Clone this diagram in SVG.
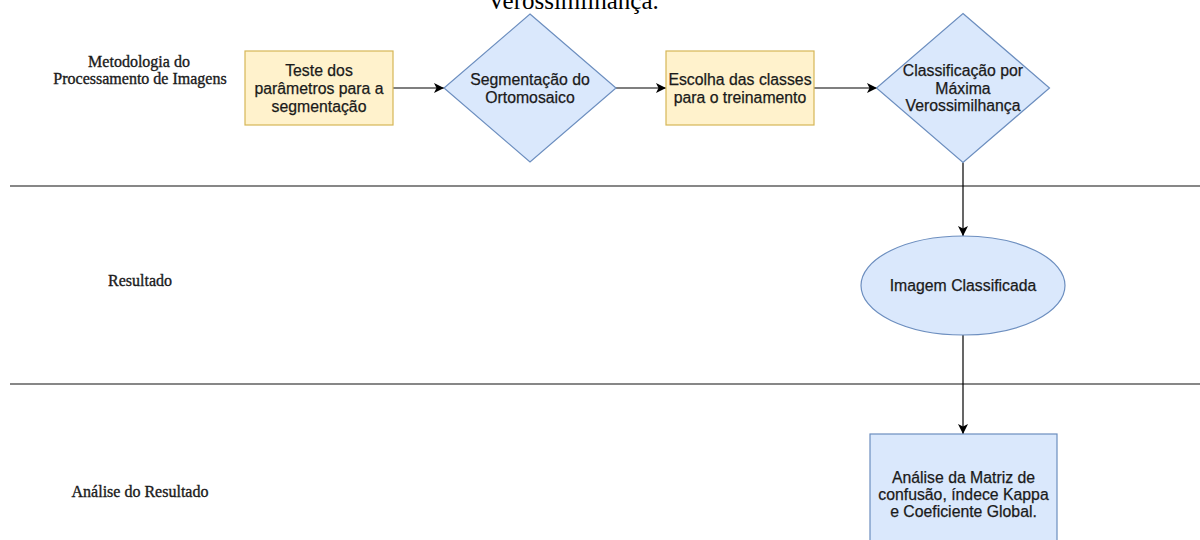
<svg xmlns="http://www.w3.org/2000/svg" width="1200" height="540" viewBox="0 0 1200 540">
<defs>
<style>
.yel{fill:#fff2cc;stroke:#d6b656;stroke-width:1.2}
.blu{fill:#dae8fc;stroke:#6c8ebf;stroke-width:1.2}
.nt{font-family:"Liberation Sans",Arial,sans-serif;font-size:15.8px;fill:#1a1a1a;stroke:#1a1a1a;stroke-width:0.25;text-anchor:middle}
.lt{font-family:"Liberation Serif","Times New Roman",serif;font-size:16px;fill:#1a1a1a;stroke:#1a1a1a;stroke-width:0.35;text-anchor:middle}
.lane{stroke:#5f5f5f;stroke-width:1.3;fill:none}
.con{stroke:#000;stroke-width:1.2;fill:none}
</style>
<marker id="arr" viewBox="0 0 10 10" refX="10" refY="5" markerWidth="10" markerHeight="10" markerUnits="userSpaceOnUse" orient="auto">
<path d="M0,0 L10,5 L0,10 L2.5,5 Z" fill="#000"/>
</marker>
</defs>
<rect width="1200" height="540" fill="#fff"/>
<text x="573" y="9" font-family="Liberation Serif,'Times New Roman',serif" font-size="25" fill="#000" text-anchor="middle">Verossimilhança.</text>
<g id="lanes">
<line class="lane" x1="10" y1="186" x2="1200" y2="186"/>
<line class="lane" x1="10" y1="384" x2="1200" y2="384"/>
</g>
<g id="lane-labels">
<text class="lt" x="139" y="66.5">Metodologia do</text>
<text class="lt" x="140" y="83.5">Processamento de Imagens</text>
<text class="lt" x="140" y="285.5">Resultado</text>
<text class="lt" x="140" y="497">Análise do Resultado</text>
</g>
<g id="connectors">
<line class="con" x1="393" y1="88" x2="444" y2="88" marker-end="url(#arr)"/>
<line class="con" x1="616" y1="88" x2="666" y2="88" marker-end="url(#arr)"/>
<line class="con" x1="814" y1="88" x2="877" y2="88" marker-end="url(#arr)"/>
<line class="con" x1="963" y1="162.5" x2="963" y2="236" marker-end="url(#arr)"/>
<line class="con" x1="963" y1="335" x2="963" y2="434" marker-end="url(#arr)"/>
</g>
<g id="n1">
<rect class="yel" x="245" y="51" width="148" height="74"/>
<text class="nt" x="319" y="76">Teste dos</text>
<text class="nt" x="319" y="94">parâmetros para a</text>
<text class="nt" x="319" y="112">segmentação</text>
</g>
<g id="n2">
<polygon class="blu" points="530,14 616,88 530,162 444,88"/>
<text class="nt" x="530" y="85">Segmentação do</text>
<text class="nt" x="530" y="103">Ortomosaico</text>
</g>
<g id="n3">
<rect class="yel" x="666" y="51" width="148" height="74"/>
<text class="nt" x="740" y="85">Escolha das classes</text>
<text class="nt" x="740" y="103">para o treinamento</text>
</g>
<g id="n4">
<polygon class="blu" points="963,13.5 1049.5,88 963,162.5 876.5,88"/>
<text class="nt" x="963" y="76">Classificação por</text>
<text class="nt" x="963" y="93.5">Máxima</text>
<text class="nt" x="963" y="111">Verossimilhança</text>
</g>
<g id="n5">
<ellipse class="blu" cx="963" cy="285.5" rx="102" ry="49.5"/>
<text class="nt" x="963" y="291">Imagem Classificada</text>
</g>
<g id="n6">
<rect class="blu" x="870" y="434" width="187" height="120"/>
<text class="nt" x="963.5" y="482.5">Análise da Matriz de</text>
<text class="nt" x="963.5" y="499.5">confusão, índece Kappa</text>
<text class="nt" x="963.5" y="516.5">e Coeficiente Global.</text>
</g>
</svg>
